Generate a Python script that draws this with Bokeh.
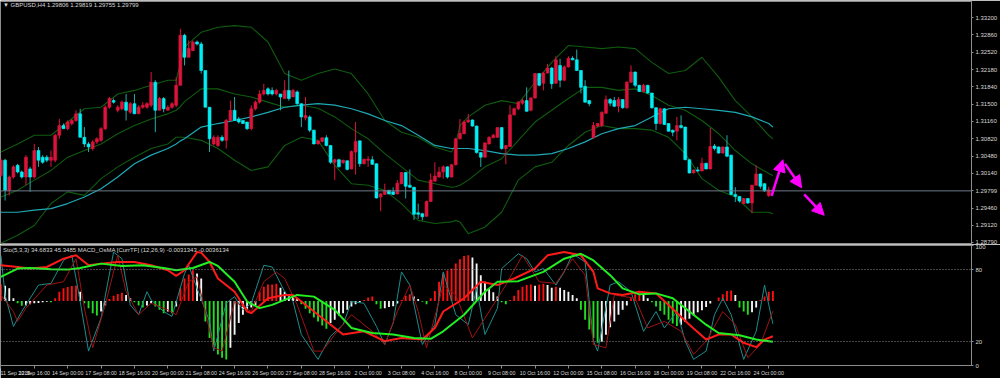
from bokeh.plotting import figure
from bokeh.layouts import column
from bokeh.models import (Range1d, FixedTicker, PrintfTickFormatter, Label, Arrow,
                          NormalHead, ColumnDataSource, Span)
from bokeh.embed import file_html
from bokeh.resources import INLINE

# ---------------- texts ----------------
symbol_title = "\u25bc GBPUSD,H4  1.29806 1.29819 1.29755 1.29799"
ind_title = "Sto(5,3,3) 34.6833 45.3485  MACD_OsMA [CurrTF] (12,26,9) -0.0031343 -0.0036134"

# ---------------- price data (H4 bars) ----------------
opens = [1.3010, 1.3040, 1.2981, 1.3007, 1.3030, 1.3017, 1.3007, 1.3023, 1.3007, 1.3059,
 1.3046, 1.3046, 1.3040, 1.3040, 1.3089, 1.3108, 1.3102, 1.3112, 1.3118, 1.3131,
 1.3085, 1.3072, 1.3063, 1.3076, 1.3079, 1.3102, 1.3144, 1.3157, 1.3138, 1.3141,
 1.3154, 1.3134, 1.3151, 1.3131, 1.3144, 1.3144, 1.3148, 1.3193, 1.3138, 1.3161,
 1.3138, 1.3144, 1.3148, 1.3187, 1.3285, 1.3242, 1.3255, 1.3272, 1.3268, 1.3216,
 1.3144, 1.3072, 1.3069, 1.3085, 1.3079, 1.3118, 1.3138, 1.3121, 1.3118, 1.3115,
 1.3102, 1.3141, 1.3154, 1.3170, 1.3180, 1.3177, 1.3170, 1.3170, 1.3161, 1.3177,
 1.3164, 1.3174, 1.3151, 1.3123, 1.3125, 1.3099, 1.3072, 1.3077, 1.3084, 1.3069,
 1.3036, 1.3041, 1.3035, 1.3039, 1.3023, 1.3056, 1.3078, 1.3033, 1.3040, 1.3041,
 1.3033, 1.2968, 1.2973, 1.2981, 1.2978, 1.2974, 1.2994, 1.3016, 1.2991, 1.2987,
 1.2937, 1.2935, 1.2930, 1.2959, 1.2999, 1.3007, 1.3017, 1.3027, 1.3007, 1.3031,
 1.3082, 1.3092, 1.3115, 1.3119, 1.3107, 1.3055, 1.3046, 1.3072, 1.3084, 1.3085,
 1.3104, 1.3063, 1.3067, 1.3129, 1.3141, 1.3152, 1.3157, 1.3138, 1.3162, 1.3210,
 1.3191, 1.3211, 1.3221, 1.3191, 1.3226, 1.3197, 1.3223, 1.3240, 1.3237, 1.3216,
 1.3185, 1.3157, 1.3084, 1.3107, 1.3108, 1.3132, 1.3159, 1.3157, 1.3146, 1.3159,
 1.3143, 1.3193, 1.3213, 1.3187, 1.3175, 1.3187, 1.3172, 1.3143, 1.3112, 1.3141,
 1.3112, 1.3099, 1.3097, 1.3108, 1.3105, 1.3041, 1.3015, 1.3021, 1.3019, 1.3034,
 1.3023, 1.3068, 1.3066, 1.3054, 1.3066, 1.3050, 1.2973, 1.2969, 1.2955, 1.2965,
 1.2956, 1.2991, 1.3013, 1.2994, 1.2971, 1.29806]

highs = [1.3043, 1.3043, 1.3010, 1.3030, 1.3033, 1.3020, 1.3050, 1.3027, 1.3072, 1.3066,
 1.3050, 1.3050, 1.3059, 1.3092, 1.3121, 1.3112, 1.3118, 1.3121, 1.3138, 1.3141,
 1.3105, 1.3076, 1.3079, 1.3085, 1.3105, 1.3148, 1.3164, 1.3161, 1.3148, 1.3157,
 1.3170, 1.3154, 1.3170, 1.3148, 1.3154, 1.3154, 1.3213, 1.3197, 1.3164, 1.3164,
 1.3148, 1.3154, 1.3203, 1.3298, 1.3288, 1.3275, 1.3275, 1.3275, 1.3272, 1.3216,
 1.3144, 1.3089, 1.3089, 1.3089, 1.3121, 1.3157, 1.3164, 1.3125, 1.3118, 1.3115,
 1.3148, 1.3157, 1.3177, 1.3190, 1.3183, 1.3183, 1.3180, 1.3170, 1.3197, 1.3216,
 1.3180, 1.3177, 1.3151, 1.3164, 1.3128, 1.3100, 1.3079, 1.3085, 1.3089, 1.3070,
 1.3043, 1.3043, 1.3041, 1.3039, 1.3059, 1.3115, 1.3078, 1.3043, 1.3048, 1.3048,
 1.3034, 1.2976, 1.2994, 1.2982, 1.2987, 1.3001, 1.3017, 1.3017, 1.3022, 1.2988,
 1.2955, 1.2937, 1.2961, 1.3014, 1.3036, 1.3027, 1.3030, 1.3028, 1.3033, 1.3084,
 1.3121, 1.3118, 1.3131, 1.3120, 1.3108, 1.3056, 1.3076, 1.3087, 1.3092, 1.3105,
 1.3105, 1.3070, 1.3148, 1.3143, 1.3156, 1.3161, 1.3183, 1.3164, 1.3211, 1.3211,
 1.3213, 1.3229, 1.3223, 1.3244, 1.3239, 1.3226, 1.3244, 1.3244, 1.3257, 1.3217,
 1.3197, 1.3158, 1.3115, 1.3113, 1.3136, 1.3167, 1.3162, 1.3164, 1.3164, 1.3160,
 1.3195, 1.3226, 1.3214, 1.3188, 1.3190, 1.3188, 1.3172, 1.3144, 1.3143, 1.3142,
 1.3113, 1.3100, 1.3125, 1.3128, 1.3106, 1.3042, 1.3022, 1.3027, 1.3045, 1.3035,
 1.3103, 1.3072, 1.3067, 1.3067, 1.3089, 1.3051, 1.2987, 1.2970, 1.2966, 1.2966,
 1.2992, 1.3030, 1.3014, 1.2995, 1.2988, 1.29819]

lows = [1.3007, 1.2961, 1.2971, 1.3004, 1.3014, 1.3004, 1.2991, 1.2978, 1.3004, 1.3027,
 1.3033, 1.3036, 1.3027, 1.3036, 1.3082, 1.3102, 1.3099, 1.3108, 1.3115, 1.3085,
 1.3066, 1.3056, 1.3059, 1.3072, 1.3076, 1.3099, 1.3141, 1.3151, 1.3134, 1.3138,
 1.3118, 1.3131, 1.3131, 1.3131, 1.3141, 1.3141, 1.3144, 1.3095, 1.3138, 1.3134,
 1.3138, 1.3141, 1.3144, 1.3187, 1.3226, 1.3242, 1.3255, 1.3265, 1.3210, 1.3144,
 1.3056, 1.3069, 1.3066, 1.3076, 1.3063, 1.3118, 1.3118, 1.3112, 1.3112, 1.3099,
 1.3099, 1.3138, 1.3151, 1.3167, 1.3167, 1.3167, 1.3167, 1.3138, 1.3161, 1.3157,
 1.3164, 1.3148, 1.3105, 1.3118, 1.3095, 1.3071, 1.3071, 1.3075, 1.3067, 1.3033,
 1.3001, 1.3026, 1.3033, 1.3020, 1.3022, 1.3012, 1.3027, 1.3032, 1.3027, 1.3031,
 1.2965, 1.2940, 1.2972, 1.2973, 1.2972, 1.2973, 1.2993, 1.2965, 1.2986, 1.2923,
 1.2925, 1.2922, 1.2929, 1.2958, 1.2998, 1.3006, 1.3004, 1.3004, 1.3006, 1.3030,
 1.3081, 1.3091, 1.3113, 1.3106, 1.3053, 1.3027, 1.3045, 1.3071, 1.3084, 1.3084,
 1.3061, 1.3032, 1.3066, 1.3128, 1.3138, 1.3149, 1.3135, 1.3136, 1.3161, 1.3185,
 1.3177, 1.3210, 1.3180, 1.3190, 1.3183, 1.3195, 1.3222, 1.3236, 1.3215, 1.3171,
 1.3153, 1.3146, 1.3083, 1.3105, 1.3105, 1.3131, 1.3146, 1.3144, 1.3134, 1.3141,
 1.3141, 1.3192, 1.3183, 1.3174, 1.3173, 1.3170, 1.3141, 1.3099, 1.3110, 1.3109,
 1.3096, 1.3087, 1.3079, 1.3102, 1.3040, 1.3014, 1.3014, 1.3017, 1.3018, 1.3022,
 1.3022, 1.3059, 1.3053, 1.3053, 1.3046, 1.2972, 1.2958, 1.2957, 1.2954, 1.2955,
 1.2936, 1.2990, 1.2984, 1.2978, 1.2968, 1.29755]

closes = [1.3040, 1.2981, 1.3007, 1.3027, 1.3017, 1.3007, 1.3046, 1.3007, 1.3059, 1.3040,
 1.3036, 1.3040, 1.3046, 1.3089, 1.3108, 1.3102, 1.3115, 1.3118, 1.3131, 1.3085,
 1.3072, 1.3066, 1.3076, 1.3082, 1.3102, 1.3144, 1.3161, 1.3154, 1.3144, 1.3154,
 1.3138, 1.3151, 1.3131, 1.3144, 1.3148, 1.3151, 1.3193, 1.3138, 1.3161, 1.3141,
 1.3144, 1.3151, 1.3187, 1.3285, 1.3242, 1.3259, 1.3272, 1.3268, 1.3216, 1.3144,
 1.3082, 1.3085, 1.3085, 1.3079, 1.3118, 1.3138, 1.3118, 1.3115, 1.3112, 1.3102,
 1.3141, 1.3154, 1.3170, 1.3177, 1.3170, 1.3170, 1.3177, 1.3164, 1.3177, 1.3161,
 1.3177, 1.3151, 1.3125, 1.3128, 1.3099, 1.3072, 1.3078, 1.3084, 1.3069, 1.3036,
 1.3041, 1.3027, 1.3040, 1.3022, 1.3057, 1.3077, 1.3033, 1.3042, 1.3042, 1.3032,
 1.2966, 1.2974, 1.2981, 1.2974, 1.2973, 1.2995, 1.3016, 1.2989, 1.2987, 1.2934,
 1.2934, 1.2929, 1.2959, 1.3001, 1.3009, 1.3017, 1.3027, 1.3007, 1.3031, 1.3082,
 1.3093, 1.3115, 1.3119, 1.3107, 1.3055, 1.3046, 1.3074, 1.3085, 1.3089, 1.3104,
 1.3063, 1.3069, 1.3129, 1.3141, 1.3154, 1.3157, 1.3136, 1.3162, 1.3210, 1.3187,
 1.3211, 1.3221, 1.3190, 1.3237, 1.3197, 1.3223, 1.3240, 1.3237, 1.3216, 1.3183,
 1.3154, 1.3151, 1.3108, 1.3112, 1.3134, 1.3159, 1.3152, 1.3146, 1.3159, 1.3143,
 1.3193, 1.3213, 1.3187, 1.3175, 1.3187, 1.3172, 1.3143, 1.3112, 1.3141, 1.3110,
 1.3097, 1.3095, 1.3108, 1.3104, 1.3041, 1.3015, 1.3021, 1.3019, 1.3034, 1.3023,
 1.3067, 1.3063, 1.3054, 1.3066, 1.3048, 1.2973, 1.2969, 1.2960, 1.2965, 1.2956,
 1.2991, 1.3013, 1.2989, 1.2980, 1.2982, 1.29799]

# time axis labels (bar index -> label)
date_tick_idx = [0, 8, 16, 24, 32, 40, 48, 56, 64, 72, 80, 88, 96, 104, 112, 120,
                 128, 136, 144, 152, 160, 168, 176, 184]
date_labels = ["11 Sep 2018", "12 Sep 16:00", "14 Sep 00:00", "17 Sep 08:00", "18 Sep 16:00",
               "20 Sep 00:00", "21 Sep 08:00", "24 Sep 16:00", "26 Sep 00:00", "27 Sep 08:00",
               "28 Sep 16:00", "2 Oct 00:00", "3 Oct 08:00", "4 Oct 16:00", "8 Oct 00:00",
               "9 Oct 08:00", "10 Oct 16:00", "12 Oct 00:00", "15 Oct 08:00", "16 Oct 16:00",
               "18 Oct 00:00", "19 Oct 08:00", "22 Oct 16:00", "24 Oct 00:00"]

price_ticks = [1.3320, 1.3286, 1.3252, 1.3218, 1.3184, 1.3150, 1.3116, 1.3082, 1.3048,
               1.3014, 1.2946, 1.2912, 1.2879]
osc_ticks = [0, 20, 80, 100]

# ---------------- overlays on price ----------------
band_idx = [0, 4, 8, 12, 16, 20, 24, 28, 32, 36, 40, 42, 43, 44, 48, 52, 56, 60, 64, 68,
            72, 76, 80, 84, 88, 92, 96, 100, 104, 108, 109, 110, 112, 116, 120, 124, 128,
            132, 136, 140, 144, 148, 152, 156, 160, 164, 168, 172, 176, 180, 184, 185]
bb_upper = [1.3056, 1.3072, 1.3089, 1.3089, 1.3115, 1.3141, 1.3144, 1.3170, 1.3177, 1.3187,
            1.3197, 1.3197, 1.3229, 1.3262, 1.3291, 1.3301, 1.3304, 1.3301, 1.3272, 1.3210,
            1.3197, 1.3210, 1.3219, 1.3210, 1.3170, 1.3118, 1.3095, 1.3085, 1.3066, 1.3056,
            1.3072, 1.3108, 1.3125, 1.3148, 1.3157, 1.3151, 1.3193, 1.3232, 1.3265, 1.3262,
            1.3259, 1.3262, 1.3259, 1.3232, 1.3210, 1.3216, 1.3242, 1.3203, 1.3157, 1.3125,
            1.3089, 1.3082]
bb_middle = [1.2968, 1.2981, 1.3001, 1.3020, 1.3046, 1.3059, 1.3072, 1.3092, 1.3108, 1.3121,
             1.3131, 1.3138, 1.3145, 1.3155, 1.3180, 1.3180, 1.3170, 1.3164, 1.3154, 1.3144,
             1.3148, 1.3142, 1.3125, 1.3102, 1.3082, 1.3053, 1.3027, 1.3001, 1.2994, 1.2987,
             1.2988, 1.2991, 1.3001, 1.3027, 1.3043, 1.3079, 1.3115, 1.3138, 1.3161, 1.3183,
             1.3183, 1.3177, 1.3180, 1.3167, 1.3148, 1.3138, 1.3118, 1.3092, 1.3059, 1.3033,
             1.3014, 1.3010]
bb_lower = [1.2877, 1.2893, 1.2912, 1.2955, 1.2978, 1.2971, 1.3004, 1.3027, 1.3046, 1.3063,
            1.3072, 1.3085, 1.3085, 1.3085, 1.3079, 1.3063, 1.3040, 1.3020, 1.3027, 1.3069,
            1.3085, 1.3079, 1.3030, 1.2994, 1.2991, 1.2981, 1.2955, 1.2922, 1.2916, 1.2919,
            1.2922, 1.2919, 1.2896, 1.2909, 1.2938, 1.3001, 1.3027, 1.3036, 1.3069, 1.3095,
            1.3108, 1.3102, 1.3102, 1.3099, 1.3085, 1.3053, 1.3004, 1.2981, 1.2968, 1.2938,
            1.2938, 1.2935]
ma_slow = [1.2938, 1.2938, 1.2942, 1.2945, 1.2955, 1.2968, 1.2984, 1.3007, 1.3033, 1.3050,
           1.3063, 1.3072, 1.3078, 1.3082, 1.3105, 1.3112, 1.3118, 1.3125, 1.3134, 1.3144,
           1.3148, 1.3151, 1.3148, 1.3141, 1.3131, 1.3118, 1.3108, 1.3089, 1.3069, 1.3063,
           1.3063, 1.3063, 1.3063, 1.3059, 1.3053, 1.3050, 1.3050, 1.3053, 1.3063, 1.3076,
           1.3092, 1.3102, 1.3108, 1.3125, 1.3141, 1.3144, 1.3141, 1.3138, 1.3134, 1.3125,
           1.3112, 1.3105]

# drawn arrows (bar index, price)
arrow_x0 = [184.7, 187.9, 192.5]
arrow_y0 = [1.2970, 1.3033, 1.2973]
arrow_x1 = [187.4, 191.9, 197.3]
arrow_y1 = [1.3041, 1.2986, 1.2932]

# ---------------- oscillator window ----------------
osma_zero = 53.8
osma_hist = [13.8, 12.7, 10.5, 2.2, -1.9, -4.1, -3.9, -2.8, -1.9, -1.7,
 -1.1, -0.6, -1.1, 2.2, 7.7, 10.5, 11.6, 12.4, 12.7, 7.7,
 -1.9, -6.1, -10.2, -12.1, -8.8, -3.9, 1.7, 4.4, 5.8, 6.9,
 5.0, 2.2, -1.1, -3.9, -5.5, -3.9, -1.9, -4.7, -7.4, -10.2,
 -8.8, -10.2, -4.7, 10.5, 18.7, 22.0, 25.6, 22.8, 18.7, -17.1,
 -30.8, -39.1, -44.6, -47.3, -48.7, -39.1, -28.1, -18.4, -11.6, -7.4,
 -5.5, -3.3, 7.7, 11.8, 13.8, 13.8, 14.3, 11.0, 7.7, 5.0,
 3.6, 2.2, -2.8, -6.6, -10.2, -13.8, -17.1, -20.4, -23.1, -18.4,
 -15.7, -12.1, -10.2, -7.4, -4.7, -2.8, -1.1, 0.8, 2.8, 3.6,
 -2.8, -6.6, -6.1, -5.0, -4.4, -2.2, 0.8, 4.4, 5.5, 3.6,
 1.7, -0.6, -2.8, 2.2, 8.3, 16.0, 22.8, 25.3, 27.0, 31.1,
 34.7, 37.4, 38.0, 36.3, 31.1, 21.5, 16.0, 10.5, 7.2, 3.6,
 -1.1, -2.8, 0.8, 4.4, 9.1, 11.8, 13.2, 13.8, 12.7, 13.8,
 14.3, 13.2, 11.0, 11.8, 11.0, 9.1, 7.7, 5.0, 2.2, -7.4,
 -15.7, -23.9, -30.8, -34.9, -34.1, -28.1, -22.0, -17.1, -11.6, -7.4,
 -3.9, 2.2, 5.5, 6.3, 5.0, 2.2, -1.1, -4.7, -8.3, -11.6,
 -15.7, -18.7, -20.9, -19.8, -17.6, -14.9, -12.1, -9.4, -7.7, -5.0,
 -2.2, 0.0, 2.8, 5.5, 8.3, 8.8, 5.0, -5.5, -8.8, -11.6,
 -9.4, -5.5, 0.8, 3.6, 7.7, 8.3]

green_idx = [0, 4, 7, 12, 16, 19, 24, 29, 34, 39, 42, 46, 50, 52, 56, 59, 62, 65, 71, 75,
             80, 84, 89, 94, 99, 103, 106, 111, 116, 119, 124, 130, 135, 139, 142, 146, 149,
             153, 157, 161, 165, 169, 172, 177, 181, 185]
green_val = [73.9, 80.8, 81.3, 80.2, 79.9, 81.3, 84.9, 83.0, 83.5, 81.3, 79.4, 81.3, 86.3,
             83.0, 69.8, 53.3, 47.8, 50.5, 58.8, 57.4, 46.4, 31.3, 27.1, 25.8, 23.0, 22.2,
             28.5, 42.3, 61.5, 69.8, 70.3, 78.0, 89.0, 93.1, 87.6, 75.3, 64.3, 59.3, 60.1,
             56.0, 45.0, 34.0, 27.1, 25.2, 21.6, 19.7]

red_idx = [0, 4, 7, 11, 15, 18, 21, 24, 28, 32, 36, 40, 42, 44, 47, 48, 50, 52, 56, 59,
           60, 64, 68, 70, 72, 76, 82, 87, 92, 96, 101, 104, 106, 111, 115, 119, 123, 128,
           131, 135, 139, 142, 143, 146, 149, 153, 157, 160, 165, 169, 172, 175, 178, 181,
           183, 185]
red_val = [83.5, 82.1, 80.8, 82.1, 89.0, 91.8, 83.5, 84.9, 86.3, 86.3, 83.5, 79.4, 74.7,
           79.4, 94.5, 94.0, 86.3, 72.5, 61.5, 45.0, 43.6, 56.0, 58.8, 58.8, 53.3, 42.3,
           25.8, 28.5, 20.3, 23.0, 21.6, 31.3, 45.0, 56.0, 69.8, 67.0, 72.5, 80.8, 91.8,
           94.5, 91.8, 78.0, 64.3, 60.1, 58.8, 61.5, 60.1, 50.5, 34.0, 21.6, 25.8, 25.8,
           18.9, 15.3, 21.6, 24.4]

stoch_k_idx = [0, 1, 3, 5, 9, 12, 15, 17, 19, 21, 24, 27, 29, 31, 33, 35, 36, 39, 41, 44,
               45, 47, 50, 51, 54, 56, 58, 60, 63, 65, 68, 70, 72, 76, 79, 82, 84, 87, 90,
               92, 94, 96, 98, 101, 104, 106, 109, 112, 114, 116, 119, 120, 124, 126, 128,
               130, 133, 135, 137, 140, 142, 143, 146, 148, 151, 154, 157, 159, 162, 164,
               166, 169, 171, 173, 175, 178, 181, 183, 185]
stoch_k = [91.8, 58.8, 32.6, 45.0, 67.0, 68.4, 87.6, 91.8, 53.3, 12.0, 39.5, 94.5, 89.0,
           50.5, 42.3, 61.5, 54.6, 45.0, 40.9, 76.6, 83.5, 64.3, 36.8, 12.0, 51.9, 57.4,
           46.4, 51.9, 83.5, 82.1, 61.5, 53.3, 25.8, 5.1, 24.4, 34.0, 53.3, 51.9, 32.6,
           17.5, 35.4, 78.0, 67.0, 17.5, 34.0, 78.0, 42.3, 34.0, 64.3, 25.8, 47.8, 80.8,
           93.1, 89.0, 78.0, 80.8, 67.0, 78.0, 93.1, 86.3, 20.3, 12.0, 67.0, 69.8, 61.5,
           28.5, 45.0, 31.3, 45.0, 20.3, 5.1, 12.0, 42.3, 56.0, 42.3, 5.1, 28.5, 67.0, 34.7]

stoch_d_idx = [0, 3, 4, 6, 11, 15, 18, 20, 22, 25, 28, 30, 33, 36, 40, 42, 45, 47, 51, 53,
               56, 60, 63, 66, 68, 71, 75, 77, 80, 84, 89, 92, 95, 98, 100, 102, 106, 109,
               113, 116, 121, 125, 129, 133, 137, 140, 142, 145, 147, 152, 155, 159, 163,
               166, 169, 173, 176, 179, 182, 185]
stoch_d = [58.8, 45.0, 36.8, 47.8, 67.0, 69.8, 89.0, 47.8, 14.8, 50.5, 91.8, 61.5, 42.3,
           51.9, 46.4, 42.3, 69.8, 73.9, 14.8, 12.0, 53.3, 45.0, 69.8, 78.0, 72.5, 50.5,
           12.0, 12.0, 25.8, 42.3, 28.5, 17.5, 45.0, 67.0, 45.0, 14.8, 67.0, 58.8, 23.0,
           39.5, 67.0, 91.8, 69.8, 68.4, 89.0, 75.3, 17.5, 14.8, 58.8, 56.0, 31.3, 36.8,
           28.5, 9.3, 20.3, 45.0, 34.0, 6.5, 17.5, 45.3]

# ---------------- styling ----------------
BG = "black"
FRAME = "#8c8c8c"
TXT = "#d8d8d8"
FONT = "Liberation Sans"
UP = "#dc143c"
DN = "#00eef4"
UP_WICK = "#dc143c"
DN_WICK = "#2aa9a9"
BAND = "#0f5c0f"
MA_COL = "#1fa9b4"
MAGENTA = "#ff00ff"

N = len(closes)
idx = list(range(N))
xr = Range1d(-0.1, 232.6)


def base_fig(h, top_border, axis_x):
    p = figure(width=1000, height=h, x_range=xr, output_backend="svg",
               toolbar_location=None, background_fill_color=BG, border_fill_color=BG,
               outline_line_color=FRAME, outline_line_width=1,
               x_axis_location=axis_x, y_axis_location="right",
               min_border_left=0, min_border_right=0,
               min_border_top=top_border, min_border_bottom=0)
    p.grid.visible = False
    ax = p.yaxis[0]
    ax.axis_line_color = FRAME
    ax.major_tick_line_color = FRAME
    ax.major_tick_in = 0
    ax.major_tick_out = 2
    ax.minor_tick_line_color = None
    ax.major_label_standoff = 2
    ax.major_label_text_color = TXT
    ax.major_label_text_font = FONT
    ax.major_label_text_font_size = "6px"
    return p


# ---------------- price pane ----------------
p1 = base_fig(244, 1, None)
p1.y_range = Range1d(1.28747, 1.33514)
p1.yaxis[0].ticker = FixedTicker(ticks=price_ticks + [closes[-1]])
p1.yaxis[0].formatter = PrintfTickFormatter(format="%.5f")

for yv in (bb_upper, bb_middle, bb_lower):
    p1.line(band_idx, yv, line_color=BAND, line_width=1.1)
p1.line(band_idx, ma_slow, line_color=MA_COL, line_width=1.2)

bull = [c >= o for o, c in zip(opens, closes)]
csrc = ColumnDataSource(dict(
    x=idx, high=highs, low=lows,
    top=[max(o, c) for o, c in zip(opens, closes)],
    bot=[min(o, c) for o, c in zip(opens, closes)],
    col=[UP if b else DN for b in bull],
    wick=[UP_WICK if b else DN_WICK for b in bull]))
p1.segment(x0="x", y0="low", x1="x", y1="high", line_color="wick", line_width=1, source=csrc)
p1.vbar(x="x", top="top", bottom="bot", width=0.7, fill_color="col", line_color="col",
        line_width=0.6, source=csrc)

p1.add_layout(Span(location=closes[-1], dimension="width", line_color="#6d7b8a", line_width=1))

asrc = ColumnDataSource(dict(x0=arrow_x0, y0=arrow_y0, x1=arrow_x1, y1=arrow_y1))
p1.add_layout(Arrow(x_start="x0", y_start="y0", x_end="x1", y_end="y1", source=asrc,
                    line_color=MAGENTA, line_width=2.5,
                    end=NormalHead(size=12, fill_color=MAGENTA, line_color=MAGENTA)))

p1.add_layout(Label(x=xr.start + 0.6, y=1.3344, text=symbol_title, text_color=TXT,
                    text_font=FONT, text_font_size="6px", text_baseline="middle"))
p1.add_layout(Label(x=977, x_units="screen", y=closes[-1], text="%.5f" % closes[-1],
                    text_color="black", background_fill_color="white",
                    text_font=FONT, text_font_size="6px", text_baseline="middle",
                    text_align="left"))

# ---------------- oscillator pane ----------------
p2 = base_fig(134, 1, "below")
p2.y_range = Range1d(0, 100)
p2.yaxis[0].ticker = FixedTicker(ticks=osc_ticks)

xa = p2.xaxis[0]
xa.ticker = FixedTicker(ticks=date_tick_idx)
xa.major_label_overrides = {t: s for t, s in zip(date_tick_idx, date_labels)}
xa.axis_line_color = FRAME
xa.major_tick_line_color = FRAME
xa.major_tick_in = 0
xa.major_tick_out = 3
xa.minor_tick_line_color = None
xa.major_label_standoff = 1
xa.major_label_text_color = TXT
xa.major_label_text_font = FONT
xa.major_label_text_font_size = "5.3px"
xa.major_label_text_align = "left"

hist_cols = []
for k, h in enumerate(osma_hist):
    prev = osma_hist[k - 1] if k else h
    if h >= 0:
        hist_cols.append("#ff1010" if h >= prev else "#f4f4f4")
    else:
        hist_cols.append("#22dd22" if h <= prev else "#f4f4f4")
p2.vbar(x=idx, bottom=[osma_zero] * N, top=[osma_zero + h for h in osma_hist],
        width=0.45, fill_color=hist_cols, line_color=None)

for lvl in (80, 20):
    p2.add_layout(Span(location=lvl, dimension="width", line_color="#8a8a8a",
                       line_dash="1 2", line_width=1))

p2.line(stoch_k_idx, stoch_k, line_color="#1d8c8c", line_width=1)
p2.line(stoch_d_idx, stoch_d, line_color="#a01212", line_width=1)
p2.line(red_idx, red_val, line_color="#ff1a1a", line_width=2)
p2.line(green_idx, green_val, line_color="#22ee22", line_width=2)

p2.add_layout(Label(x=xr.start + 0.6, y=96, text=ind_title, text_color=TXT,
                    text_font=FONT, text_font_size="6px", text_baseline="middle"))

layout = column(p1, p2, spacing=0)
open("out.html", "w").write(file_html(layout, INLINE))
